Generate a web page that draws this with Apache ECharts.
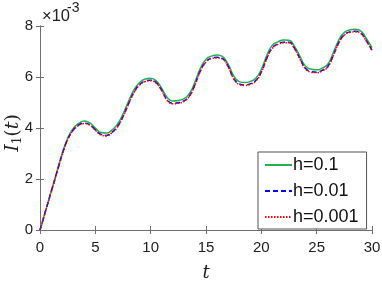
<!DOCTYPE html>
<html>
<head>
<meta charset="utf-8">
<script src="https://cdn.jsdelivr.net/npm/echarts@6/dist/echarts.min.js"></script>
<style>html,body{margin:0;padding:0;background:#fff;}#c{width:382px;height:286px;}</style>
</head>
<body>
<div id="c"></div>
<script>
var tValues = [0,0.5,1,1.5,2,2.5,3,3.5,4,4.5,5,5.5,6,6.5,7,7.5,8,8.5,9,9.5,10,10.5,11,11.5,12,12.5,13,13.5,14,14.5,15,15.5,16,16.5,17,17.5,18,18.5,19,19.5,20,20.5,21,21.5,22,22.5,23,23.5,24,24.5,25,25.5,26,26.5,27,27.5,28,28.5,29,29.5,30];
var h01 = [0,0.75,1.5,2.25,3.0,3.6,3.98,4.18,4.27,4.2,4.0,3.82,3.8,3.92,4.15,4.55,5.05,5.5,5.78,5.92,5.95,5.85,5.55,5.2,5.06,5.08,5.15,5.35,5.8,6.35,6.7,6.82,6.86,6.8,6.5,6.05,5.82,5.78,5.82,5.95,6.3,6.85,7.25,7.38,7.45,7.44,7.2,6.8,6.42,6.3,6.28,6.35,6.5,6.95,7.45,7.75,7.85,7.87,7.8,7.5,7.15];
var h001 = [0,0.74,1.48,2.22,2.95,3.55,3.92,4.12,4.19,4.13,3.93,3.75,3.71,3.83,4.06,4.45,4.95,5.41,5.7,5.84,5.87,5.78,5.48,5.1,4.97,4.99,5.06,5.26,5.7,6.25,6.6,6.74,6.77,6.72,6.42,5.95,5.73,5.69,5.73,5.86,6.2,6.75,7.15,7.3,7.36,7.36,7.12,6.71,6.33,6.21,6.19,6.26,6.41,6.85,7.35,7.66,7.77,7.79,7.72,7.42,7.05];
var h0001 = [0,0.73,1.47,2.2,2.93,3.53,3.9,4.1,4.17,4.11,3.91,3.73,3.69,3.81,4.04,4.43,4.93,5.39,5.68,5.82,5.85,5.76,5.46,5.08,4.95,4.97,5.04,5.24,5.68,6.23,6.58,6.72,6.75,6.7,6.4,5.93,5.71,5.67,5.71,5.84,6.18,6.73,7.13,7.28,7.34,7.34,7.1,6.69,6.31,6.19,6.17,6.24,6.39,6.83,7.33,7.64,7.75,7.77,7.7,7.4,7.03];
var seriesNames = ['h=0.1','h=0.01','h=0.001'];
var xTicks = [0,5,10,15,20,25,30];
var yTicks = [0,2,4,6,8];

function pairs(arr){ return tValues.map(function(t,i){ return [t, arr[i]]; }); }

var axisColor = '#707070';
var font = 'Liberation Sans';
var chart = echarts.init(document.getElementById('c'), null, {renderer:'canvas'});
var baseX = {
  type:'value', min:0, max:30, interval:5,
  axisLine:{show:true, lineStyle:{color:axisColor, width:1}},
  axisTick:{show:true, inside:true, length:4, lineStyle:{color:axisColor}},
  splitLine:{show:false}
};
var baseY = {
  type:'value', min:0, max:8, interval:2,
  axisLine:{show:true, lineStyle:{color:axisColor, width:1}},
  axisTick:{show:true, inside:true, length:4, lineStyle:{color:axisColor}},
  splitLine:{show:false}
};
chart.setOption({
  animation:false,
  backgroundColor:'#fff',
  grid:{left:40, right:10, top:26, bottom:56, containLabel:false, outerBoundsMode:'none'},
  xAxis:[
    Object.assign({}, baseX, {position:'bottom',
      axisLabel:{show:true, color:'#222', fontSize:15, fontFamily:font, margin:10},
      name:'t', nameLocation:'middle', nameGap:34,
      nameTextStyle:{fontFamily:'DejaVu Serif', fontStyle:'italic', fontSize:18, color:'#222'}}),
    Object.assign({}, baseX, {position:'top', axisLabel:{show:false}})
  ],
  yAxis:[
    Object.assign({}, baseY, {position:'left',
      axisLabel:{show:true, color:'#222', fontSize:15, fontFamily:font, margin:7}}),
    Object.assign({}, baseY, {position:'right', axisLabel:{show:false}})
  ],
  legend:{
    left:258, top:152, orient:'vertical',
    backgroundColor:'#fff', borderColor:'#555', borderWidth:1, borderRadius:0,
    padding:[4,8,3,6], itemGap:8, itemWidth:27, itemHeight:15,
    itemStyle:{opacity:0},
    textStyle:{fontFamily:font, fontSize:18, color:'#111', padding:[0,0,0,-4]},
    data:seriesNames
  },
  graphic:[
    {type:'text', left:42, top:8, style:{text:'×10', fontSize:16.5, fontFamily:'Liberation Sans', fill:'#222'}},
    {type:'text', left:67, top:1, style:{text:'-3', fontSize:14, fontFamily:'Liberation Sans', fill:'#222'}},
    {type:'text', x:13, y:133, rotation:Math.PI/2, z:10,
      style:{text:'{i|I}{s|1}{p|(}{i|t}{p|)}', align:'center', verticalAlign:'middle', fill:'#222',
        rich:{
          i:{font:'italic 19px "DejaVu Serif"', fill:'#222'},
          s:{font:'12px "DejaVu Serif"', fill:'#222', padding:[10,0,0,0]},
          p:{font:'19px "DejaVu Serif"', fill:'#222'}
        }}}
  ],
  series:[
    {name:seriesNames[0], type:'line', smooth:true, symbol:'none', data:pairs(h01),
      lineStyle:{color:'#22b14c', width:1.5}, itemStyle:{color:'#22b14c'}, z:2},
    {name:seriesNames[1], type:'line', smooth:true, symbol:'none', data:pairs(h001),
      lineStyle:{color:'#0000ff', width:1.5, type:[5,3]}, itemStyle:{color:'#0000ff'}, z:3},
    {name:seriesNames[2], type:'line', smooth:true, symbol:'none', data:pairs(h0001),
      lineStyle:{color:'#ff0000', width:1.5, type:[1.5,1.5]}, itemStyle:{color:'#ff0000'}, z:4}
  ]
});
</script>
</body>
</html>
